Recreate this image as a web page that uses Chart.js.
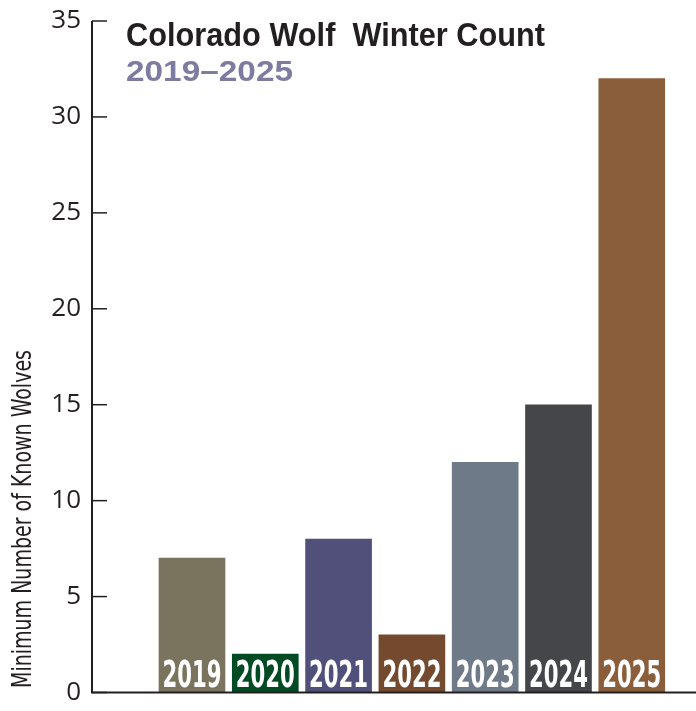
<!DOCTYPE html>
<html>
<head>
<meta charset="utf-8">
<script src="https://cdn.jsdelivr.net/npm/chart.js@4.4.1/dist/chart.umd.min.js"></script>
<style>
  html, body { margin: 0; padding: 0; background: #fff; }
  #wrap { width: 696px; height: 711px; }
</style>
</head>
<body>
<div id="wrap"><canvas id="wolves" width="696" height="711"></canvas></div>
<script>
const years = ['2019', '2020', '2021', '2022', '2023', '2024', '2025'];
const wolves = [7, 2, 8, 3, 12, 15, 32];
const barColors = ['#7a735d', '#004b23', '#51507a', '#744a2e', '#6e7a88', '#454649', '#8a5e3a'];
const yTicks = [0, 5, 10, 15, 20, 25, 30, 35];

const ink = '#231f20';

// stretch/squeeze text horizontally so it takes a given width
function fitText(ctx, text, x, y, width, align) {
    const w = ctx.measureText(text).width;
    const sx = width / w;
    ctx.save();
    ctx.translate(x, y);
    ctx.scale(sx, 1);
    ctx.textAlign = align || 'left';
    ctx.fillText(text, 0, 0);
    ctx.restore();
}

const decor = {
    id: 'decor',
    afterDatasetsDraw(chart) {
        const ctx = chart.ctx;
        const area = chart.chartArea;
        const y = chart.scales.y;

        // axis lines
        ctx.save();
        ctx.strokeStyle = ink;
        ctx.lineWidth = 2;
        ctx.beginPath();
        ctx.moveTo(area.left, area.top);
        ctx.lineTo(area.left, area.bottom);
        ctx.lineTo(area.right, area.bottom);
        ctx.stroke();

        // inward tick marks
        ctx.lineWidth = 1.5;
        yTicks.forEach(v => {
            const py = y.getPixelForValue(v);
            ctx.beginPath();
            ctx.moveTo(area.left, py);
            ctx.lineTo(area.left + 15, py);
            ctx.stroke();
        });

        // year labels inside bars
        const meta = chart.getDatasetMeta(0);
        ctx.fillStyle = '#ffffff';
        ctx.textBaseline = 'alphabetic';
        ctx.font = 'bold 37px "Liberation Sans Narrow", "DejaVu Sans Condensed", "Liberation Sans", sans-serif';
        meta.data.forEach((bar, i) => {
            fitText(ctx, years[i], bar.x, area.bottom - 6, 59, 'center');
        });

        // title
        ctx.fillStyle = ink;
        ctx.font = 'bold 33px "Liberation Sans", "Noto Sans", sans-serif';
        fitText(ctx, 'Colorado Wolf  Winter Count', 126, 46, 419);
        ctx.fillStyle = '#7d7ba0';
        ctx.font = 'bold 29px "Liberation Sans", "Noto Sans", sans-serif';
        fitText(ctx, '2019–2025', 126, 81, 167);

        // y axis title
        ctx.fillStyle = ink;
        ctx.font = '26px "Liberation Sans Narrow", "DejaVu Sans Condensed", "Liberation Sans", sans-serif';
        ctx.translate(31, 519);
        ctx.rotate(-Math.PI / 2);
        fitText(ctx, 'Minimum Number of Known Wolves', 0, 0, 338, 'center');
        ctx.restore();
    }
};

new Chart(document.getElementById('wolves').getContext('2d'), {
    type: 'bar',
    data: {
        datasets: [{
            data: wolves.map((v, i) => ({ x: i, y: v })),
            backgroundColor: barColors,
            borderWidth: 0,
            barThickness: 66
        }]
    },
    options: {
        responsive: false,
        animation: false,
        layout: { padding: { top: 21, bottom: 18.5, left: 0, right: 0 } },
        scales: {
            x: {
                type: 'linear',
                display: false,
                offset: false,
                min: -1.364,
                max: 6.876
            },
            y: {
                min: 0,
                max: 35,
                afterFit(s) {
                    s.width = 92;
                    s.paddingTop = 0;
                    s.paddingBottom = 0;
                },
                afterBuildTicks(s) { s.ticks = yTicks.map(v => ({ value: v })); },
                border: { display: false },
                grid: { display: false, drawTicks: false },
                ticks: {
                    padding: 11,
                    color: ink,
                    font: { family: '"Open Sans", "Noto Sans", sans-serif', size: 26 }
                }
            }
        },
        plugins: {
            legend: { display: false },
            tooltip: { enabled: false }
        }
    },
    plugins: [decor]
});
</script>
</body>
</html>
